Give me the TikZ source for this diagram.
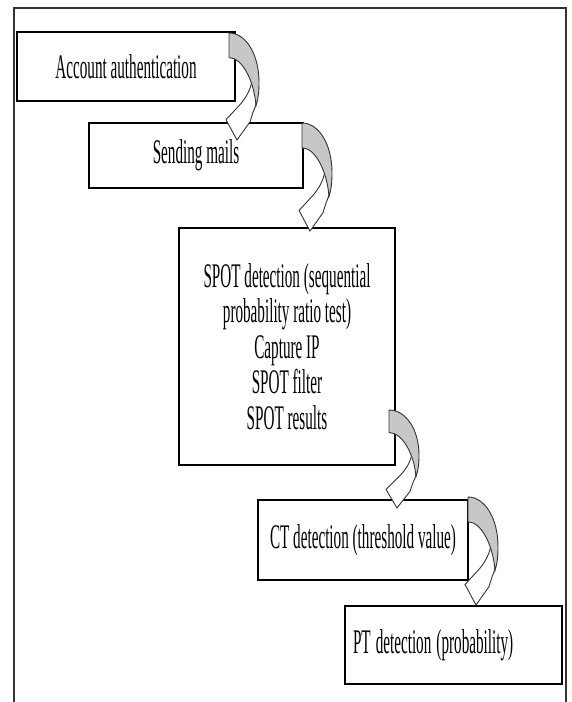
\documentclass[tikz,border=0pt]{standalone}
\usepackage{fontspec}
\setmainfont{Liberation Serif}
\usepackage{graphicx}
\newcommand{\narrowtxt}[1]{\scalebox{0.44}[1]{#1}}
\tikzset{
  box/.style={draw=black, line width=1.4pt, fill=white, rectangle, inner sep=0pt,
    font=\fontsize{34.5}{35.5}\selectfont, align=center},
  backface/.style={draw=black!80, line width=0.9pt, fill=black!22},
  frontface/.style={draw=black!80, line width=0.9pt, fill=white},
  curvearrow/.pic={
    \path[frontface] (29,44) .. controls (30,56) and (28,66) .. (24,74)
      -- (21,83) -- (8,100) -- (-3,81) -- (9,69)
      .. controls (17,61) and (23,52) .. (24,38) -- cycle;
    \path[backface] (0,0) .. controls (17,0) and (30,20) .. (30,46)
      .. controls (30,56) and (29,62) .. (27,68)
      .. controls (25,44) and (13,23) .. (0,23) -- cycle;
  }
}
\begin{document}
\begin{tikzpicture}[x=1pt,y=-1pt]
\useasboundingbox (0,0) rectangle (572,702);
\clip (0,0) rectangle (572,702);
% outer frame
\draw[black!80, line width=1.8pt] (14,720) -- (14,8) -- (566,8) -- (566,720);
% boxes
\node[box, minimum width=218pt, minimum height=69pt] (b1) at (126,66.5) {\narrowtxt{Account authentication}};
\node[box, minimum width=214pt, minimum height=65pt] (b2) at (196,155.5) {\narrowtxt{Sending mails}};
\node[box, minimum width=216pt, minimum height=237pt] (b3) at (287,346.5)
  {\narrowtxt{SPOT detection (sequential}\\\narrowtxt{probability ratio test)}\\\narrowtxt{Capture IP}\\\narrowtxt{SPOT filter}\\\narrowtxt{SPOT results}};
\node[box, minimum width=210pt, minimum height=80pt] (b4) at (363,540) {\narrowtxt{CT detection (threshold value)}};
\node[box, minimum width=217pt, minimum height=78pt, text width=201pt, inner xsep=8pt, align=left] (b5) at (453.5,645) {\narrowtxt{PT detection (probability)}};
% curved connectors
\coordinate (s1) at (229,33);
\coordinate (s2) at (302,123);
\coordinate (s3) at (389,410);
\coordinate (s4) at (468,497);
\pic[yscale=1.07] at (s1) {curvearrow};
\pic[yscale=1.08] at (s2) {curvearrow};
\pic[yscale=0.98] at (s3) {curvearrow};
\pic[yscale=1.08] at (s4) {curvearrow};
\end{tikzpicture}
\end{document}
